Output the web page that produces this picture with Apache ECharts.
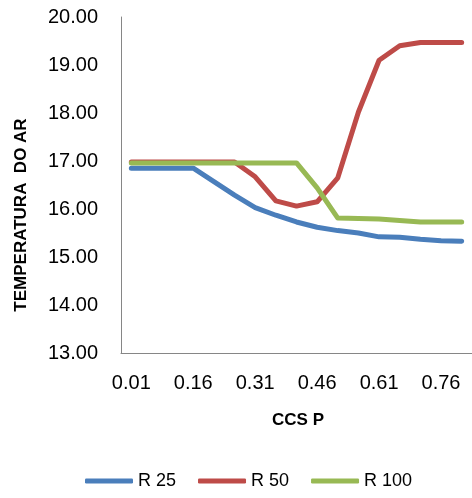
<!DOCTYPE html>
<html><head><meta charset="utf-8">
<script src="https://cdn.jsdelivr.net/npm/echarts@6/dist/echarts.min.js"></script>
<style>html,body{margin:0;padding:0;background:#fff}#c{width:472px;height:498px}</style>
</head><body><div id="c"></div>
<script>
const categories = ['0.01','0.06','0.11','0.16','0.21','0.26','0.31','0.36','0.41','0.46','0.51','0.56','0.61','0.66','0.71','0.76','0.81'];
const r25  = [16.85,16.85,16.85,16.85,16.57,16.29,16.03,15.87,15.73,15.62,15.55,15.50,15.42,15.41,15.37,15.34,15.33];
const r50  = [16.98,16.98,16.98,16.98,16.98,16.98,16.67,16.17,16.06,16.15,16.65,18.02,19.10,19.40,19.47,19.47,19.47];
const r100 = [16.96,16.96,16.96,16.96,16.96,16.96,16.96,16.96,16.96,16.44,15.81,15.80,15.79,15.76,15.73,15.73,15.73];
const seriesNames = ['R 25','R 50','R 100'];
const xTitle = 'CCS P';
const yTitle = 'TEMPERATURA  DO AR';
const colors = ['#4A7EBB','#BE4B48','#98B954'];
const FONT = 'Liberation Sans';
const chart = echarts.init(document.getElementById('c'), null, {renderer:'canvas'});
const mk = (name, data, i) => ({name, type:'line', data, symbol:'none', smooth:false,
  lineStyle:{width:5, color:colors[i], cap:'round', join:'round'}, itemStyle:{color:colors[i]}, animation:false});
chart.setOption({
  animation:false,
  textStyle:{fontFamily:FONT},
  grid:{left:121, top:17, width:354, height:336},
  legend:{top:467, left:80, itemWidth:48, itemHeight:5, itemGap:22,
    icon:'roundRect',
    textStyle:{fontFamily:FONT, fontSize:18, color:'#000'}, data:seriesNames},
  graphic:[
    {type:'text', x:21, y:215, rotation:Math.PI/2,
      style:{text:yTitle, fontFamily:FONT, fontSize:17, fontWeight:'bold', fill:'#000', align:'center', verticalAlign:'middle'}},
    {type:'text', x:298, y:420,
      style:{text:xTitle, fontFamily:FONT, fontSize:17, fontWeight:'bold', fill:'#000', align:'center', verticalAlign:'middle'}}
  ],
  xAxis:{type:'category', data:categories, boundaryGap:true,
    axisLine:{lineStyle:{color:'#868686', width:1}}, axisTick:{show:false},
    axisLabel:{interval:2, margin:20, fontFamily:FONT, fontSize:20, color:'#000'}},
  yAxis:{type:'value', min:13, max:20, interval:1,
    splitLine:{show:false},
    axisLine:{show:true, lineStyle:{color:'#868686', width:1}}, axisTick:{show:false},
    axisLabel:{margin:23, fontFamily:FONT, fontSize:20, color:'#000', formatter:v=>v.toFixed(2)}},
  series:[mk(seriesNames[0], r25, 0), mk(seriesNames[1], r50, 1), mk(seriesNames[2], r100, 2)]
});
</script></body></html>
